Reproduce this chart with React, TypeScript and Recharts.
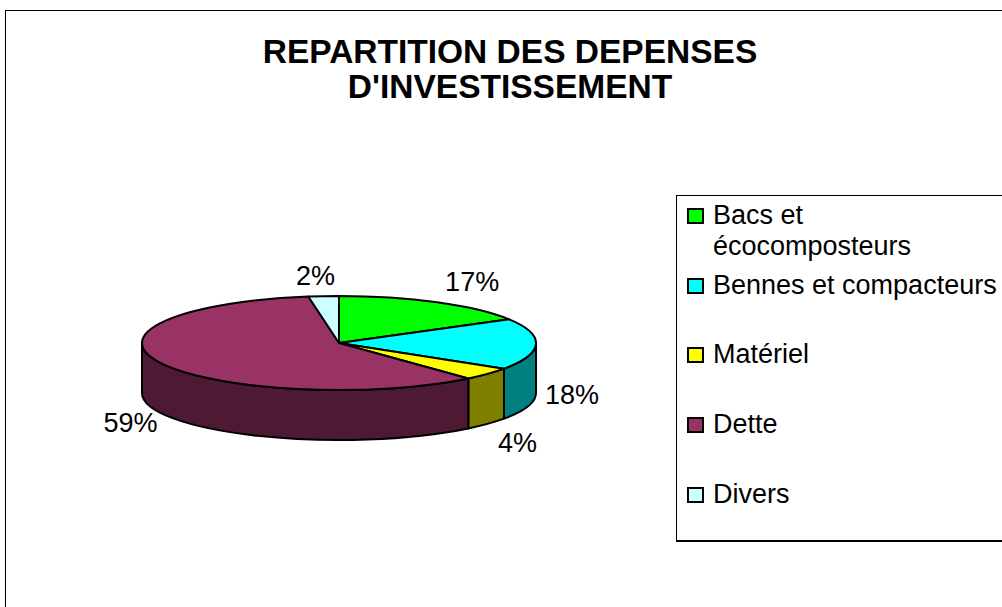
import { PieChart, Pie, Cell, Legend } from 'recharts';

const categories = ['Bacs et écocomposteurs', 'Bennes et compacteurs', 'Matériel', 'Dette', 'Divers'];
const shares = [16.6, 17.6, 4.4, 58.91, 2.49];
const topColors = ['#00FF00', '#00FFFF', '#FFFF00', '#993366', '#CCFFFF'];
const wallColors = ['#008000', '#008080', '#808000', '#4D1933', '#668080'];
const titleLines = ['REPARTITION DES DEPENSES', "D'INVESTISSEMENT"];

const chartData = categories.map((name, i) => ({ name, value: shares[i] }));

const FONT = '"Liberation Sans", Arial, sans-serif';
const RADIAN = Math.PI / 180;
const TILT = 0.2386; // vertical squash of the disc
const DEPTH = 50;

// nudges from the rim of the disc to where each percent label sits
const labelNudge = [
  [35, -20],
  [36, 51],
  [30, 69],
  [-30, 60],
  [-8, -20],
];

const rimPoint = (cx: number, cy: number, r: number, angle: number) => [
  cx + r * Math.cos(angle * RADIAN),
  cy - r * TILT * Math.sin(angle * RADIAN),
];

const DiscSlice = (props: any) => {
  const { cx, cy, outerRadius: r, startAngle, endAngle, fill, index } = props;
  const ry = r * TILT;
  const [x0, y0] = rimPoint(cx, cy, r, startAngle);
  const [x1, y1] = rimPoint(cx, cy, r, endAngle);
  const large = Math.abs(startAngle - endAngle) > 180 ? 1 : 0;
  const top = `M${cx},${cy} L${x0},${y0} A${r},${ry} 0 ${large} 1 ${x1},${y1} Z`;

  // the wall only shows on the front half, angles 0 to -180
  const a = Math.min(startAngle, 0);
  const b = Math.max(endAngle, -180);
  let wall = null;
  if (a > b) {
    const [wx0, wy0] = rimPoint(cx, cy, r, a);
    const [wx1, wy1] = rimPoint(cx, cy, r, b);
    wall = `M${wx0},${wy0} A${r},${ry} 0 0 1 ${wx1},${wy1} L${wx1},${wy1 + DEPTH} A${r},${ry} 0 0 0 ${wx0},${wy0 + DEPTH} Z`;
  }
  return (
    <g>
      {wall && <path d={wall} fill={wallColors[index]} stroke="#000" strokeWidth={2} strokeLinejoin="round" />}
      <path d={top} fill={fill} stroke="#000" strokeWidth={2} strokeLinejoin="round" />
    </g>
  );
};

const renderLabel = (props: any) => {
  const { cx, cy, outerRadius, midAngle, percent, index } = props;
  const [x, y] = rimPoint(cx, cy, outerRadius, midAngle);
  return (
    <text
      x={x + labelNudge[index][0]}
      y={y + labelNudge[index][1]}
      fill="#000"
      textAnchor="middle"
      dominantBaseline="central"
      style={{ fontFamily: FONT, fontSize: 27 }}
    >
      {`${Math.round(percent * 100)}%`}
    </text>
  );
};

const LegendBox = ({ payload }: any) => (
  <div style={{ fontFamily: FONT, fontSize: 27, color: '#000', paddingTop: 4 }}>
    {(payload || []).map((entry: any) => (
      <div
        key={entry.value}
        style={{ position: 'relative', height: 69.7, paddingLeft: 36, lineHeight: '31px', width: 326, boxSizing: 'border-box' }}
      >
        <span
          style={{
            position: 'absolute',
            left: 10,
            top: 8,
            width: 17,
            height: 16,
            background: entry.color,
            border: '2px solid #000',
            boxSizing: 'border-box',
          }}
        />
        {entry.value}
      </div>
    ))}
  </div>
);

export default function App() {
  return (
    <div style={{ position: 'absolute', left: 0, top: 0, width: 1002, height: 607, overflow: 'hidden', background: '#fff' }}>
      <div style={{ position: 'absolute', left: 5, top: 10, width: 1100, height: 700, border: '1.5px solid #000', boxSizing: 'border-box' }} />
      <div
        style={{
          position: 'absolute',
          left: 0,
          top: 34,
          width: 1020,
          textAlign: 'center',
          fontFamily: FONT,
          fontWeight: 700,
          fontSize: 33.5,
          lineHeight: '35px',
        }}
      >
        {titleLines.map((line) => (
          <div key={line}>{line}</div>
        ))}
      </div>
      <PieChart
        width={1002}
        height={607}
        margin={{ top: 0, right: 0, bottom: 0, left: 0 }}
        style={{ position: 'absolute', left: 0, top: 0 }}
      >
        <Pie
          data={chartData}
          dataKey="value"
          nameKey="name"
          cx={339}
          cy={343}
          outerRadius={197}
          startAngle={90}
          endAngle={-270}
          paddingAngle={0}
          shape={DiscSlice}
          label={renderLabel}
          labelLine={false}
          isAnimationActive={false}
        >
          {chartData.map((entry, i) => (
            <Cell key={entry.name} fill={topColors[i]} />
          ))}
        </Pie>
        <Legend
          content={<LegendBox />}
          layout="vertical"
          itemSorter={null}
          wrapperStyle={{
            position: 'absolute',
            left: 676,
            top: 195,
            width: 340,
            height: 347,
            border: '1px solid #000',
            borderBottomWidth: 2,
            boxSizing: 'border-box',
            background: '#fff',
          }}
        />
      </PieChart>
    </div>
  );
}
